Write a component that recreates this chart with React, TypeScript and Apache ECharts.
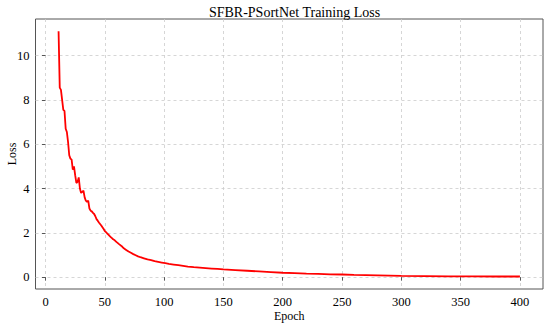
import React, { useEffect, useRef } from "react";
import * as echarts from "echarts";

const epochs = [
  11, 12, 13, 14, 15, 16, 17, 18, 19, 20, 21, 22, 23, 24, 25, 26, 27, 28, 29, 30,
  31, 32, 33, 34, 35, 36, 37, 38, 39, 40, 41, 42, 43, 44, 45, 46, 47, 48, 49, 50,
  51, 52, 53, 54, 55, 56, 57, 58, 59, 60, 62, 64, 66, 68, 70, 72, 74, 76, 78, 80,
  83, 86, 89, 92, 95, 98, 101, 104, 108, 112, 116, 120, 125, 130, 135, 140, 145, 150,
  160, 170, 180, 190, 200, 210, 220, 230, 240, 250, 260, 270, 280, 290, 300, 320,
  340, 360, 380, 400,
];

const losses = [
  11.1, 8.55, 8.45, 8.0, 7.55, 7.5, 6.7, 6.55, 6.1, 5.5, 5.35, 5.3, 4.85, 5.0, 4.6, 4.25, 4.3, 4.5, 4.0, 3.8,
  3.85, 3.9, 3.6, 3.45, 3.4, 3.45, 3.1, 3.0, 2.97, 2.9, 2.85, 2.75, 2.62, 2.55, 2.47, 2.4, 2.33, 2.25, 2.17, 2.08,
  2.03, 1.97, 1.92, 1.86, 1.81, 1.76, 1.71, 1.68, 1.63, 1.58, 1.49, 1.41, 1.3, 1.23, 1.16, 1.1, 1.04, 0.99, 0.94, 0.9,
  0.85, 0.8, 0.77, 0.72, 0.69, 0.66, 0.63, 0.6, 0.57, 0.54, 0.51, 0.48, 0.45, 0.43, 0.41, 0.39, 0.37, 0.35,
  0.32, 0.29, 0.26, 0.23, 0.2, 0.18, 0.16, 0.15, 0.13, 0.12, 0.1, 0.09, 0.08, 0.07, 0.06, 0.05,
  0.04, 0.035, 0.03, 0.03,
];

const xTicks = [0, 50, 100, 150, 200, 250, 300, 350, 400];
const yTicks = [0, 2, 4, 6, 8, 10];

const FONT = "'Liberation Serif', 'DejaVu Serif', serif";

export default function App() {
  const ref = useRef<HTMLDivElement>(null);
  useEffect(() => {
    if (!ref.current) return;
    const chart = echarts.init(ref.current, null, { renderer: "svg" });
    const data = epochs.map((e, i) => [e, losses[i]]);
    chart.setOption({
      animation: false,
      backgroundColor: "#ffffff",
      title: {
        text: "SFBR-PSortNet Training Loss",
        left: 289.5,
        textAlign: "center",
        top: 0,
        textStyle: { fontFamily: FONT, fontSize: 14, fontWeight: "normal", color: "#000" },
      },
      grid: {
        left: 35.5,
        right: 7,
        top: 19,
        bottom: 36,
        outerBoundsMode: "none",
        containLabel: false,
        show: true,
        borderColor: "#555",
        borderWidth: 1,
        backgroundColor: "#fff",
      },
      xAxis: {
        type: "value",
        min: -8.45,
        max: 419.45,
        name: "Epoch",
        nameLocation: "middle",
        nameGap: 21,
        nameMoveOverlap: false,
        nameTextStyle: { fontFamily: FONT, fontSize: 12, color: "#000" },
        axisLine: { show: false },
        axisTick: { show: true, customValues: xTicks, length: 3.5, lineStyle: { color: "#555" } },
        axisLabel: { customValues: xTicks, fontFamily: FONT, fontSize: 12.5, color: "#000", margin: 6 },
        splitLine: { show: true, lineStyle: { color: "#cccccc", type: [3, 3], width: 0.8 } },
      },
      yAxis: {
        type: "value",
        min: -0.534,
        max: 11.65,
        name: "Loss",
        nameLocation: "middle",
        nameGap: 18,
        nameMoveOverlap: false,
        nameTextStyle: { fontFamily: FONT, fontSize: 12, color: "#000" },
        axisLine: { show: false },
        axisTick: { show: true, customValues: yTicks, length: 3.5, lineStyle: { color: "#555" } },
        axisLabel: { customValues: yTicks, fontFamily: FONT, fontSize: 12.5, color: "#000", margin: 6 },
        splitLine: { show: true, lineStyle: { color: "#cccccc", type: [3, 3], width: 0.8 } },
      },
      series: [
        {
          type: "line",
          data,
          showSymbol: false,
          symbol: "none",
          lineStyle: { color: "#ff0000", width: 1.8 },
          clip: false,
        },
      ],
    });
    return () => chart.dispose();
  }, []);
  return <div ref={ref} style={{ width: 550, height: 325, position: "absolute", left: 0, top: 0 }} />;
}
